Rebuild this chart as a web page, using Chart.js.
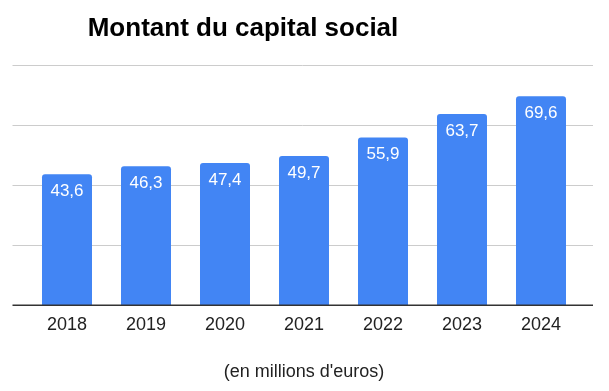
<!DOCTYPE html>
<html lang="fr">
<head>
<meta charset="utf-8">
<title>Montant du capital social</title>
<script src="https://cdn.jsdelivr.net/npm/chart.js@4.4.1/dist/chart.umd.min.js"></script>
<style>
    html, body { margin: 0; padding: 0; background: #ffffff; }
    #wrap { width: 609px; height: 391px; position: relative; }
</style>
</head>
<body>
<div id="wrap"><canvas id="chartCapital"></canvas></div>
<script>
/* donn칠es */
const annees = ['2018', '2019', '2020', '2021', '2022', '2023', '2024'];
const capital = [43.6, 46.3, 47.4, 49.7, 55.9, 63.7, 69.6];
const lignesGrille = [20, 40, 60, 80];

const TITRE = 'Montant du capital social';
const SOUS_TITRE = "(en millions d'euros)";
const police = '"Liberation Sans", Arial, sans-serif';

const couleurs = {
    barre: '#4285f4',
    grille: '#cccccc',
    axe: '#333333',
    texte: '#222222'
};

// grille + ligne de base, plus large que la zone des barres
const grillePlugin = {
    id: 'grille',
    beforeDatasetsDraw(chart) {
        const { ctx, scales: { y } } = chart;
        ctx.save();
        ctx.lineWidth = 1;
        ctx.strokeStyle = couleurs.grille;
        lignesGrille.forEach(v => {
            const py = Math.round(y.getPixelForValue(v)) + 0.5;
            ctx.beginPath();
            ctx.moveTo(12.5, py);
            ctx.lineTo(593, py);
            ctx.stroke();
        });
        ctx.restore();
    },
    afterDatasetsDraw(chart) {
        const { ctx, scales: { y } } = chart;
        ctx.save();
        ctx.strokeStyle = couleurs.axe;
        ctx.lineWidth = 1.5;
        const py = y.getPixelForValue(0);
        ctx.beginPath();
        ctx.moveTo(12.5, py);
        ctx.lineTo(593, py);
        ctx.stroke();
        ctx.restore();
    }
};

// valeurs dans les barres
const etiquettesPlugin = {
    id: 'etiquettes',
    afterDatasetsDraw(chart) {
        const { ctx } = chart;
        const meta = chart.getDatasetMeta(0);
        ctx.save();
        ctx.fillStyle = '#ffffff';
        ctx.font = '17px ' + police;
        ctx.textAlign = 'center';
        ctx.textBaseline = 'alphabetic';
        meta.data.forEach((bar, i) => {
            const txt = capital[i].toFixed(1).replace('.', ',');
            ctx.fillText(txt, bar.x, bar.y + 22);
        });
        ctx.restore();
    }
};

// titre d칠cal칠 vers la gauche comme sur l'original
const titrePlugin = {
    id: 'titre',
    afterDraw(chart) {
        const { ctx } = chart;
        ctx.save();
        ctx.fillStyle = '#000000';
        ctx.font = 'bold 26px ' + police;
        ctx.textAlign = 'center';
        ctx.textBaseline = 'alphabetic';
        ctx.fillText(TITRE, 243, 36);
        ctx.restore();
    }
};

new Chart(document.getElementById('chartCapital'), {
    type: 'bar',
    data: {
        labels: annees,
        datasets: [{
            label: 'Capital social',
            data: capital,
            backgroundColor: couleurs.barre,
            borderRadius: { topLeft: 3, topRight: 3 },
            borderSkipped: 'bottom',
            barPercentage: 0.633,
            categoryPercentage: 1
        }]
    },
    options: {
        responsive: true,
        maintainAspectRatio: false,
        animation: false,
        layout: { padding: { left: 27.5, right: 28.5, top: 65, bottom: 8.5 } },
        plugins: {
            legend: { display: false },
            tooltip: { enabled: false }
        },
        scales: {
            y: {
                display: false,
                min: 0,
                max: 80
            },
            x: {
                grid: { display: false, drawTicks: false },
                border: { display: false },
                ticks: {
                    color: couleurs.texte,
                    font: { family: police, size: 18 },
                    padding: 9
                },
                title: {
                    display: true,
                    text: SOUS_TITRE,
                    color: couleurs.texte,
                    font: { family: police, size: 18 },
                    padding: { top: 16, bottom: 0 }
                }
            }
        }
    },
    plugins: [grillePlugin, etiquettesPlugin, titrePlugin]
});
</script>
</body>
</html>
